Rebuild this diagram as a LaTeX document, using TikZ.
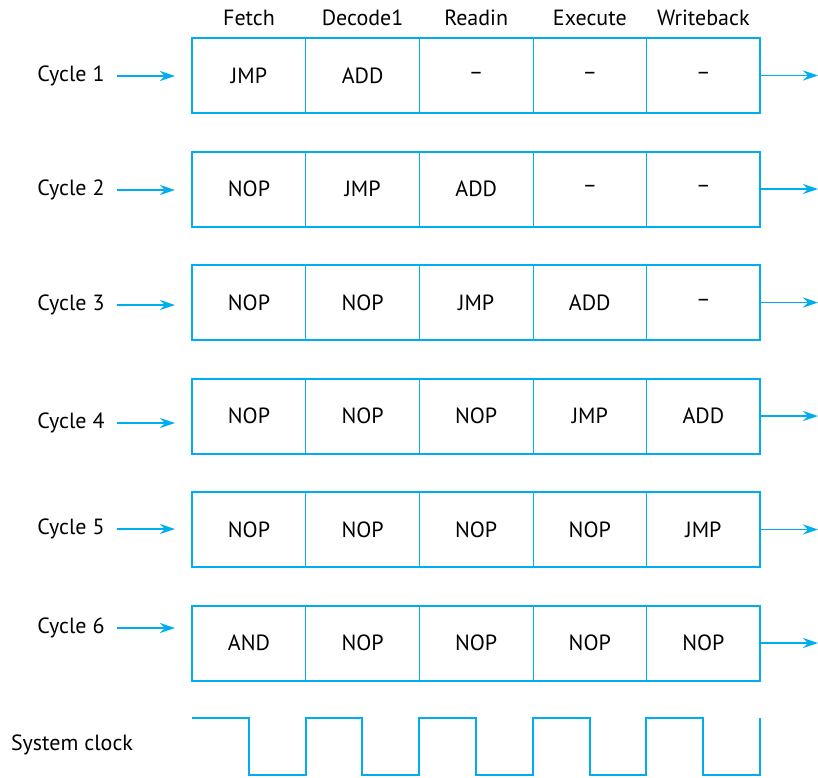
\documentclass[tikz,border=0pt]{standalone}
\usepackage{fontspec}
\setmainfont{PT Sans}
\usetikzlibrary{arrows.meta}
\definecolor{pipeblue}{HTML}{00AEEF}

\begin{document}
\begin{tikzpicture}[x=1pt,y=-1pt,
    font=\fontsize{22}{26}\selectfont,
    cell/.style={draw=pipeblue, line width=1pt, minimum width=113.6pt, minimum height=75pt, inner sep=0pt},
    rowbox/.style={draw=pipeblue, line width=2pt, minimum width=568pt, minimum height=75pt, inner sep=0pt},
    feed/.style={draw=pipeblue, line width=1.3pt, -{Stealth[length=15pt,width=10pt,inset=5pt]}},
    clk/.style={draw=pipeblue, line width=2pt}]
  \useasboundingbox (0,0) rectangle (818,777);
  % stage names
  \foreach \s [count=\c] in {Fetch,Decode1,Readin,Execute,Writeback}
    \node (h\c) at ({249+113.6*(\c-1)},18) {\s};
  % one row per cycle
  \foreach \r/\ly/\cells in {1/76/{JMP,ADD,–,–,–},
                             2/190/{NOP,JMP,ADD,–,–},
                             3/305/{NOP,NOP,JMP,ADD,–},
                             4/423/{NOP,NOP,NOP,JMP,ADD},
                             5/529/{NOP,NOP,NOP,NOP,JMP},
                             6/628/{AND,NOP,NOP,NOP,NOP}} {
    \pgfmathsetmacro\yc{75.5+113.5*(\r-1)}
    \foreach \t [count=\c] in \cells
      \node[cell] (c\r-\c) at ({249+113.6*(\c-1)},\yc) {\t};
    \node[rowbox] (row\r) at (476,\yc) {};
    \node (cyc\r) at (71,\ly) {Cycle \r};
    \coordinate (in\r) at (117,\ly);
    \coordinate (tip\r) at (175,\ly);
    \coordinate (out\r) at (818,\yc);
    \draw[feed] (in\r) -- (tip\r);
    \draw[feed] (row\r.east) -- (out\r);
  }
  % clock
  \node (sysclk) at (72,745) {System clock};
  \draw[clk] (192,718) \foreach \i in {1,...,5} { -- ++(56.8,0) -- ++(0,57) -- ++(56.8,0) -- ++(0,-57) };
\end{tikzpicture}
\end{document}
